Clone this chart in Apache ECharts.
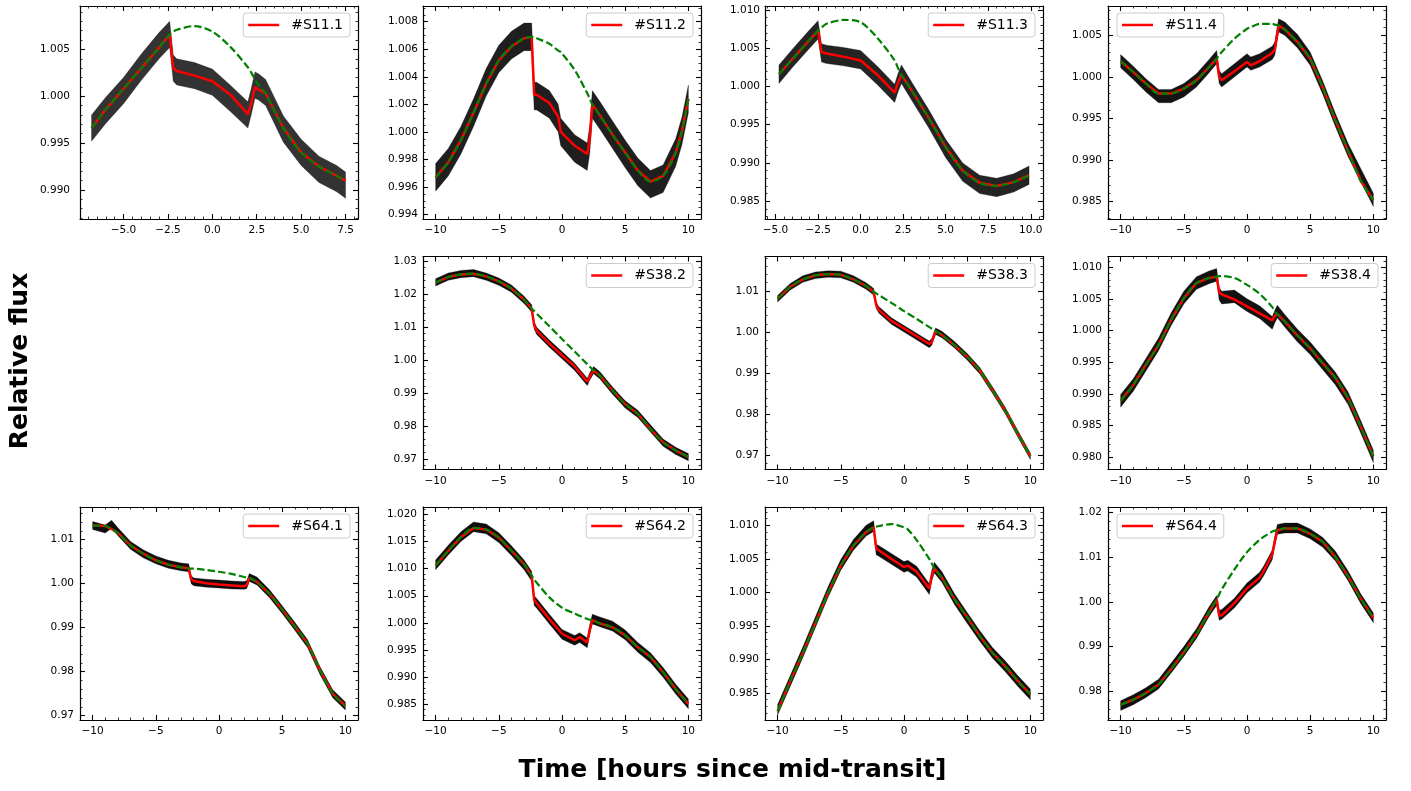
<!DOCTYPE html>
<html>
<head>
<meta charset="utf-8">
<script src="https://cdn.jsdelivr.net/npm/echarts@6/dist/echarts.min.js"></script>
<style>
html, body { margin: 0; padding: 0; background: #fff; }
#chart { width: 1411px; height: 791px; }
</style>
</head>
<body>
<div id="chart"></div>
<script>
// ---- data (time in hours, relative flux) ----
// obs = centre of the black data band, model = red fit, base = green dashed (no transit)

var timeS111  = [-6.8,-6,-5,-4,-3,-2.4,-2.2,-2,-1,0,1,2,2.2,2.4,2.6,3,4,5,6,7,7.5];
var obsS111   = [0.9966,0.9985,1.0006,1.0031,1.0054,1.0066,1.0030,1.0026,1.0022,1.0015,0.9998,0.9980,0.9995,1.0012,1.0010,1.0004,0.9965,0.9940,0.9922,0.9912,0.9905];
var modelS111 = [0.9966,0.9986,1.0008,1.0030,1.0052,1.0066,1.0030,1.0027,1.0022,1.0016,1.0002,0.9981,0.9993,1.0010,1.0007,1.0003,0.9966,0.9940,0.9925,0.9915,0.9910];
var baseS111  = [0.9966,0.9986,1.0008,1.0030,1.0052,1.0066,1.0069,1.0071,1.0075,1.0069,1.0053,1.0031,1.0025,1.0018,1.0012,1.0003,0.9966,0.9940,0.9925,0.9915,0.9910];
var errS111 = 0.0014;

var timeS112  = [-10,-9,-8,-7,-6,-5,-4,-3,-2.4,-2.2,-2,-1,-0.3,-0.1,1,2,2.2,2.4,3,4,5,6,7,8,9,9.5,10];
var obsS112   = [0.9967,0.9978,0.9994,1.0014,1.0036,1.0053,1.0063,1.0069,1.0069,1.0026,1.0026,1.0020,1.0010,1.0000,0.9988,0.9982,0.9995,1.0020,1.0012,0.9998,0.9984,0.9971,0.9962,0.9966,0.9985,1.0001,1.0024];
var modelS112 = [0.9967,0.9978,0.9994,1.0014,1.0035,1.0052,1.0062,1.0068,1.0069,1.0027,1.0027,1.0021,1.0011,1.0000,0.9990,0.9984,0.9995,1.0020,1.0012,0.9998,0.9985,0.9972,0.9964,0.9968,0.9985,1.0001,1.0024];
var baseS112  = [0.9967,0.9978,0.9994,1.0014,1.0035,1.0052,1.0062,1.0068,1.0069,1.0069,1.0068,1.0064,1.0059,1.0058,1.0045,1.0028,1.0024,1.0020,1.0012,0.9998,0.9985,0.9972,0.9964,0.9968,0.9985,1.0001,1.0024];
var errS112 = 0.0010;

var timeS113  = [-4.8,-4,-3,-2.5,-2.3,-2,-1,0,1,2,2.2,2.4,3,4,5,6,7,8,9,9.9];
var obsS113   = [1.0016,1.0037,1.0062,1.0074,1.0044,1.0042,1.0039,1.0035,1.0014,0.9991,1.0005,1.0016,0.9994,0.9958,0.9919,0.9888,0.9872,0.9868,0.9874,0.9884];
var modelS113 = [1.0016,1.0036,1.0061,1.0073,1.0045,1.0043,1.0039,1.0034,1.0015,0.9992,1.0005,1.0015,0.9995,0.9959,0.9921,0.9890,0.9874,0.9870,0.9875,0.9884];
var baseS113  = [1.0016,1.0036,1.0061,1.0073,1.0077,1.0082,1.0087,1.0084,1.0063,1.0034,1.0024,1.0015,0.9995,0.9959,0.9921,0.9890,0.9874,0.9870,0.9875,0.9884];
var errS113 = 0.0012;

var timeS114  = [-10,-9,-8,-7,-6,-5,-4,-3,-2.4,-2.2,-2,-1,0,0.3,1,2,2.2,2.5,3,4,5,6,7,8,9,10];
var obsS114   = [1.0019,1.0005,0.9990,0.9977,0.9977,0.9984,0.9996,1.0013,1.0024,1.0000,0.9996,1.0008,1.0020,1.0016,1.0020,1.0029,1.0034,1.0062,1.0058,1.0043,1.0022,0.9987,0.9948,0.9912,0.9882,0.9852];
var modelS114 = [1.0019,1.0006,0.9992,0.9980,0.9980,0.9986,0.9996,1.0012,1.0022,1.0000,0.9996,1.0007,1.0018,1.0014,1.0019,1.0029,1.0033,1.0062,1.0057,1.0042,1.0022,0.9987,0.9948,0.9911,0.9875,0.9852];
var baseS114  = [1.0019,1.0006,0.9992,0.9980,0.9980,0.9986,0.9996,1.0012,1.0022,1.0026,1.0030,1.0046,1.0058,1.0060,1.0064,1.0064,1.0063,1.0062,1.0057,1.0042,1.0022,0.9987,0.9948,0.9911,0.9875,0.9852];
var errS114 = 0.0008;

var timeS382  = [-10,-9,-8,-7,-6,-5,-4,-3,-2.4,-2.2,-2,-1,0,1,2,2.2,2.5,3,4,5,6,7,8,9,10];
var obsS382   = [1.0235,1.0252,1.0260,1.0263,1.0252,1.0237,1.0216,1.0182,1.0156,1.0104,1.0088,1.0049,1.0014,0.9979,0.9933,0.9950,0.9969,0.9953,0.9907,0.9865,0.9836,0.9792,0.9749,0.9724,0.9705];
var modelS382 = [1.0234,1.0251,1.0259,1.0261,1.0253,1.0238,1.0216,1.0182,1.0155,1.0105,1.0088,1.0049,1.0014,0.9980,0.9934,0.9950,0.9968,0.9952,0.9907,0.9866,0.9836,0.9790,0.9750,0.9725,0.9706];
var baseS382  = [1.0234,1.0251,1.0259,1.0261,1.0253,1.0238,1.0216,1.0182,1.0155,1.0148,1.0140,1.0102,1.0063,1.0025,0.9987,0.9979,0.9968,0.9952,0.9907,0.9866,0.9836,0.9790,0.9750,0.9725,0.9706];
var errS382 = 0.0011;

var timeS383  = [-10,-9,-8,-7,-6,-5,-4,-3,-2.4,-2.2,-2,-1,0,1,2,2.2,2.5,3,4,5,6,7,8,9,10];
var obsS383   = [1.0081,1.0110,1.0129,1.0138,1.0141,1.0140,1.0129,1.0112,1.0098,1.0065,1.0054,1.0027,1.0008,0.9989,0.9970,0.9976,1.0002,0.9994,0.9969,0.9940,0.9906,0.9859,0.9810,0.9753,0.9698];
var modelS383 = [1.0081,1.0110,1.0128,1.0138,1.0141,1.0139,1.0128,1.0112,1.0098,1.0066,1.0054,1.0027,1.0009,0.9990,0.9971,0.9976,1.0002,0.9993,0.9968,0.9940,0.9906,0.9859,0.9810,0.9753,0.9698];
var baseS383  = [1.0081,1.0110,1.0128,1.0138,1.0141,1.0139,1.0128,1.0112,1.0098,1.0094,1.0090,1.0071,1.0051,1.0032,1.0012,1.0008,1.0002,0.9993,0.9968,0.9940,0.9906,0.9859,0.9810,0.9753,0.9698];
var errS383 = 0.0008;

var timeS384  = [-10,-9,-8,-7,-6,-5,-4,-3,-2.4,-2.2,-2,-1,0,1,2,2.2,2.4,3,4,5,6,7,8,9,10];
var obsS384   = [0.9889,0.9914,0.9946,0.9978,1.0018,1.0052,1.0075,1.0084,1.0088,1.0058,1.0052,1.0054,1.0040,1.0029,1.0012,1.0022,1.0030,1.0015,0.9992,0.9972,0.9948,0.9924,0.9893,0.9848,0.9801];
var modelS384 = [0.9889,0.9914,0.9946,0.9977,1.0017,1.0051,1.0075,1.0083,1.0085,1.0060,1.0057,1.0049,1.0038,1.0027,1.0016,1.0023,1.0026,1.0014,0.9992,0.9972,0.9948,0.9925,0.9893,0.9848,0.9801];
var baseS384  = [0.9889,0.9914,0.9946,0.9977,1.0017,1.0051,1.0075,1.0083,1.0085,1.0086,1.0086,1.0083,1.0072,1.0058,1.0037,1.0030,1.0026,1.0014,0.9992,0.9972,0.9948,0.9925,0.9893,0.9848,0.9801];
var errS384 = 0.0010;

var timeS641  = [-10,-9,-8.5,-8,-7,-6,-5,-4,-3,-2.4,-2.2,-2,-1,0,1,2,2.2,2.4,3,4,5,6,7,8,9,10];
var obsS641   = [1.0132,1.0124,1.0135,1.0118,1.0087,1.0068,1.0054,1.0044,1.0038,1.0036,1.0009,1.0004,1.0001,0.9999,0.9997,0.9996,0.9998,1.0014,1.0006,0.9977,0.9941,0.9903,0.9864,0.9802,0.9750,0.9722];
var modelS641 = [1.0132,1.0131,1.0124,1.0115,1.0087,1.0068,1.0053,1.0043,1.0037,1.0035,1.0010,1.0006,1.0001,0.9998,0.9996,0.9994,0.9997,1.0013,1.0004,0.9977,0.9941,0.9903,0.9864,0.9803,0.9750,0.9722];
var baseS641  = [1.0132,1.0131,1.0124,1.0115,1.0087,1.0068,1.0053,1.0043,1.0037,1.0035,1.0034,1.0034,1.0031,1.0027,1.0022,1.0015,1.0014,1.0013,1.0004,0.9977,0.9941,0.9903,0.9864,0.9803,0.9750,0.9722];
var errS641 = 0.0009;

var timeS642  = [-10,-9,-8,-7,-6,-5,-4,-3,-2.4,-2.2,-2,-1,0,1,1.4,2,2.2,2.4,3,4,5,6,7,8,9,10];
var obsS642   = [1.0107,1.0134,1.0159,1.0177,1.0173,1.0157,1.0133,1.0107,1.0086,1.0041,1.0036,1.0007,0.9979,0.9968,0.9973,0.9963,0.9988,1.0007,1.0002,0.9994,0.9978,0.9955,0.9936,0.9909,0.9878,0.9851];
var modelS642 = [1.0106,1.0133,1.0158,1.0175,1.0172,1.0157,1.0133,1.0108,1.0087,1.0042,1.0036,1.0007,0.9980,0.9968,0.9974,0.9964,0.9988,1.0005,0.9999,0.9992,0.9977,0.9955,0.9937,0.9909,0.9878,0.9851];
var baseS642  = [1.0106,1.0133,1.0158,1.0175,1.0172,1.0157,1.0133,1.0108,1.0087,1.0080,1.0074,1.0047,1.0028,1.0017,1.0013,1.0007,1.0006,1.0005,0.9999,0.9992,0.9977,0.9955,0.9937,0.9909,0.9878,0.9851];
var errS642 = 0.0009;

var timeS643  = [-10,-9,-8,-7,-6,-5,-4,-3,-2.4,-2.2,-2,-1,0,0.3,1,2,2.2,2.4,3,4,5,6,7,8,9,10];
var obsS643   = [0.9825,0.9868,0.9911,0.9956,1.0001,1.0041,1.0071,1.0092,1.0099,1.0064,1.0062,1.0050,1.0038,1.0040,1.0031,1.0005,1.0025,1.0037,1.0023,0.9990,0.9962,0.9935,0.9910,0.9890,0.9868,0.9848];
var modelS643 = [0.9823,0.9868,0.9910,0.9955,1.0000,1.0040,1.0070,1.0090,1.0097,1.0066,1.0063,1.0050,1.0038,1.0040,1.0031,1.0006,1.0025,1.0036,1.0022,0.9990,0.9963,0.9935,0.9910,0.9890,0.9868,0.9848];
var baseS643  = [0.9823,0.9868,0.9910,0.9955,1.0000,1.0040,1.0070,1.0090,1.0097,1.0098,1.0099,1.0102,1.0097,1.0094,1.0078,1.0050,1.0043,1.0036,1.0022,0.9990,0.9963,0.9935,0.9910,0.9890,0.9868,0.9848];
var errS643 = 0.0008;

var timeS644  = [-10,-9,-8,-7,-6,-5,-4,-3,-2.4,-2.2,-2,-1,0,1,1.3,2,2.2,2.4,3,4,5,6,7,8,9,10];
var obsS644   = [0.9768,0.9781,0.9797,0.9816,0.9852,0.9889,0.9929,0.9978,1.0003,0.9970,0.9972,0.9997,1.0031,1.0055,1.0068,1.0105,1.0136,1.0162,1.0165,1.0165,1.0152,1.0133,1.0102,1.0058,1.0007,0.9964];
var modelS644 = [0.9770,0.9781,0.9796,0.9815,0.9850,0.9887,0.9928,0.9977,1.0005,0.9969,0.9970,0.9997,1.0030,1.0054,1.0068,1.0106,1.0135,1.0160,1.0164,1.0164,1.0152,1.0134,1.0100,1.0057,1.0007,0.9964];
var baseS644  = [0.9770,0.9781,0.9796,0.9815,0.9850,0.9887,0.9928,0.9977,1.0005,1.0017,1.0028,1.0072,1.0111,1.0139,1.0145,1.0157,1.0159,1.0161,1.0164,1.0164,1.0152,1.0134,1.0100,1.0057,1.0007,0.9964];
var errS644 = 0.0011;

// ---- layout ----
var W = 1411, PW = 278, PH = 213;
var colLeft = [80, 423, 765, 1108];
var rowTop = [6, 256.5, 507];
var FONT = 'DejaVu Sans';

var panels = [
  { name: '#S11.1', row: 0, col: 0, time: timeS111, obs: obsS111, model: modelS111, base: baseS111, err: errS111,
    x: [-7.45, 8.2], xStep: 2.5, xDec: 1, y: [0.98689, 1.00964], yStep: 0.005, yDec: 3, legend: 'right', yMargin: 10, alpha: 0.8 },
  { name: '#S11.2', row: 0, col: 1, time: timeS112, obs: obsS112, model: modelS112, base: baseS112, err: errS112,
    x: [-11, 11], xStep: 5, xDec: 0, y: [0.99368, 1.00914], yStep: 0.002, yDec: 3, legend: 'right', yMargin: 5, alpha: 0.88 },
  { name: '#S11.3', row: 0, col: 2, time: timeS113, obs: obsS113, model: modelS113, base: baseS113, err: errS113,
    x: [-5.62, 10.72], xStep: 2.5, xDec: 1, y: [0.98268, 1.01052], yStep: 0.005, yDec: 3, legend: 'right', yMargin: 5, alpha: 0.86 },
  { name: '#S11.4', row: 0, col: 3, time: timeS114, obs: obsS114, model: modelS114, base: baseS114, err: errS114,
    x: [-11, 11], xStep: 5, xDec: 0, y: [0.98291, 1.00854], yStep: 0.005, yDec: 3, legend: 'left', yMargin: 6, alpha: 0.92 },
  { name: '#S38.2', row: 1, col: 1, time: timeS382, obs: obsS382, model: modelS382, base: baseS382, err: errS382,
    x: [-11, 11], xStep: 5, xDec: 0, y: [0.96676, 1.03132], yStep: 0.01, yDec: 2, legend: 'right', yMargin: 6, alpha: 0.95 },
  { name: '#S38.3', row: 1, col: 2, time: timeS383, obs: obsS383, model: modelS383, base: baseS383, err: errS383,
    x: [-11, 11], xStep: 5, xDec: 0, y: [0.96659, 1.01836], yStep: 0.01, yDec: 2, legend: 'right', yMargin: 6, alpha: 0.95 },
  { name: '#S38.4', row: 1, col: 3, time: timeS384, obs: obsS384, model: modelS384, base: baseS384, err: errS384,
    x: [-11, 11], xStep: 5, xDec: 0, y: [0.97805, 1.01169], yStep: 0.005, yDec: 3, legend: 'right', yMargin: 6, alpha: 0.93 },
  { name: '#S64.1', row: 2, col: 0, time: timeS641, obs: obsS641, model: modelS641, base: baseS641, err: errS641,
    x: [-11, 11], xStep: 5, xDec: 0, y: [0.96902, 1.01741], yStep: 0.01, yDec: 2, legend: 'right', yMargin: 6, alpha: 0.95 },
  { name: '#S64.2', row: 2, col: 1, time: timeS642, obs: obsS642, model: modelS642, base: baseS642, err: errS642,
    x: [-11, 11], xStep: 5, xDec: 0, y: [0.98211, 1.02135], yStep: 0.005, yDec: 3, legend: 'right', yMargin: 6, alpha: 0.95 },
  { name: '#S64.3', row: 2, col: 2, time: timeS643, obs: obsS643, model: modelS643, base: baseS643, err: errS643,
    x: [-11, 11], xStep: 5, xDec: 0, y: [0.98097, 1.01274], yStep: 0.005, yDec: 3, legend: 'right', yMargin: 6, alpha: 0.95 },
  { name: '#S64.4', row: 2, col: 3, time: timeS644, obs: obsS644, model: modelS644, base: baseS644, err: errS644,
    x: [-11, 11], xStep: 5, xDec: 0, y: [0.97358, 1.02119], yStep: 0.01, yDec: 2, legend: 'left', yMargin: 6, alpha: 0.95 }
];

// tick helpers (matplotlib style: major + auto minor)
function tickList(min, max, step) {
  var out = [];
  var k0 = Math.ceil(min / step - 1e-7), k1 = Math.floor(max / step + 1e-7);
  for (var k = k0; k <= k1; k++) out.push(Math.round(k * step * 1e8) / 1e8);
  return out;
}
function minorOf(step) {
  var m = step / Math.pow(10, Math.floor(Math.log10(step) + 1e-9));
  var five = [1, 2.5, 5, 10].some(function (v) { return Math.abs(m - v) < 1e-6; });
  return step / (five ? 5 : 4);
}
function fmt(v, dec) {
  return v.toFixed(dec).replace('-', '\u2212');
}

function axis(gi, pos, range, ticks, len, withLine, label) {
  return {
    type: 'value', gridIndex: gi, position: pos, min: range[0], max: range[1],
    axisLine: { show: withLine, onZero: false, lineStyle: { color: '#000', width: 1.2 } },
    axisTick: { show: true, inside: true, length: len, customValues: ticks,
                lineStyle: { color: '#000', width: len > 3 ? 1.1 : 0.8 } },
    axisLabel: label ? label : { show: false },
    splitLine: { show: false }, minorTick: { show: false }, splitArea: { show: false }
  };
}

var grids = [], xAxes = [], yAxes = [], series = [], legends = [];

panels.forEach(function (p, i) {
  var left = colLeft[p.col], top = rowTop[p.row];
  grids.push({ left: left, top: top, width: PW, height: PH, containLabel: false, outerBoundsMode: 'none' });

  var xMaj = tickList(p.x[0], p.x[1], p.xStep), xMin = tickList(p.x[0], p.x[1], minorOf(p.xStep));
  var yMaj = tickList(p.y[0], p.y[1], p.yStep), yMin = tickList(p.y[0], p.y[1], minorOf(p.yStep));

  var xLab = { show: true, customValues: xMaj, margin: 6, fontSize: 10.5, fontFamily: FONT, color: '#000',
               formatter: function (v) { return fmt(v, p.xDec); } };
  var yLab = { show: true, customValues: yMaj, margin: p.yMargin, fontSize: 10.5, fontFamily: FONT, color: '#000',
               formatter: function (v) { return fmt(v, p.yDec); } };

  xAxes.push(axis(i, 'bottom', p.x, xMaj, 5, true, xLab));
  xAxes.push(axis(i, 'bottom', p.x, xMin, 2.5, false, null));
  xAxes.push(axis(i, 'top', p.x, xMaj, 5, true, null));
  xAxes.push(axis(i, 'top', p.x, xMin, 2.5, false, null));
  yAxes.push(axis(i, 'left', p.y, yMaj, 5, true, yLab));
  yAxes.push(axis(i, 'left', p.y, yMin, 2.5, false, null));
  yAxes.push(axis(i, 'right', p.y, yMaj, 5, true, null));
  yAxes.push(axis(i, 'right', p.y, yMin, 2.5, false, null));

  var xi = 4 * i, yi = 4 * i;

  // black observations drawn as a band of obs +/- err
  series.push({
    type: 'custom', name: 'data' + i, xAxisIndex: xi, yAxisIndex: yi, z: 2, clip: true,
    data: p.time.map(function (t, k) { return [t, p.obs[k]]; }),
    renderItem: function (params, api) {
      if (params.dataIndex !== 0) return null;
      var up = [], dn = [];
      for (var k = 0; k < p.time.length; k++) {
        up.push(api.coord([p.time[k], p.obs[k] + p.err]));
        dn.unshift(api.coord([p.time[k], p.obs[k] - p.err]));
      }
      return { type: 'polygon', shape: { points: up.concat(dn) },
               style: { fill: 'rgba(0,0,0,' + p.alpha + ')', stroke: 'rgba(0,0,0,0.35)', lineWidth: 0.8 } };
    }
  });
  // red transit model
  series.push({
    type: 'line', name: p.name, xAxisIndex: xi, yAxisIndex: yi, z: 3,
    symbol: 'none', showSymbol: false,
    data: p.time.map(function (t, k) { return [t, p.model[k]]; }),
    lineStyle: { color: '#ff0000', width: 2.5 }, itemStyle: { color: '#ff0000' }
  });
  // green dashed baseline
  series.push({
    type: 'line', name: 'base' + i, xAxisIndex: xi, yAxisIndex: yi, z: 4,
    symbol: 'none', showSymbol: false, smooth: 0.3,
    data: p.time.map(function (t, k) { return [t, p.base[k]]; }),
    lineStyle: { color: '#008000', width: 2.2, type: [7.4, 3.2] }, itemStyle: { color: '#008000' }
  });

  var lg = {
    selectedMode: false, orient: 'horizontal', top: top + 7,
    padding: [5, 7, 5, 5], itemWidth: 38, itemHeight: 2.7, itemGap: 0,
    icon: 'path://M0,0H31V2.7H0Z M38,1.35L38,1.35',
    data: [p.name],
    textStyle: { fontSize: 14, fontFamily: FONT, color: '#000' },
    backgroundColor: 'rgba(255,255,255,0.8)', borderColor: '#cccccc', borderWidth: 1, borderRadius: 3,
    itemStyle: { color: '#ff0000', borderWidth: 0 }
  };
  if (p.legend === 'left') lg.left = left + 9; else lg.right = W - (left + PW - 8);
  legends.push(lg);
});

var chart = echarts.init(document.getElementById('chart'));
chart.setOption({
  backgroundColor: '#fff',
  animation: false,
  grid: grids,
  xAxis: xAxes,
  yAxis: yAxes,
  legend: legends,
  series: series,
  graphic: [
    { type: 'text', x: 20, y: 361, rotation: Math.PI / 2,
      style: { text: 'Relative flux', fontSize: 25, fontWeight: 'bold', fontFamily: FONT, fill: '#000',
               align: 'center', verticalAlign: 'middle' } },
    { type: 'text', x: 732.5, y: 770,
      style: { text: 'Time [hours since mid-transit]', fontSize: 25, fontWeight: 'bold', fontFamily: FONT, fill: '#000',
               align: 'center', verticalAlign: 'middle' } }
  ]
});
</script>
</body>
</html>
